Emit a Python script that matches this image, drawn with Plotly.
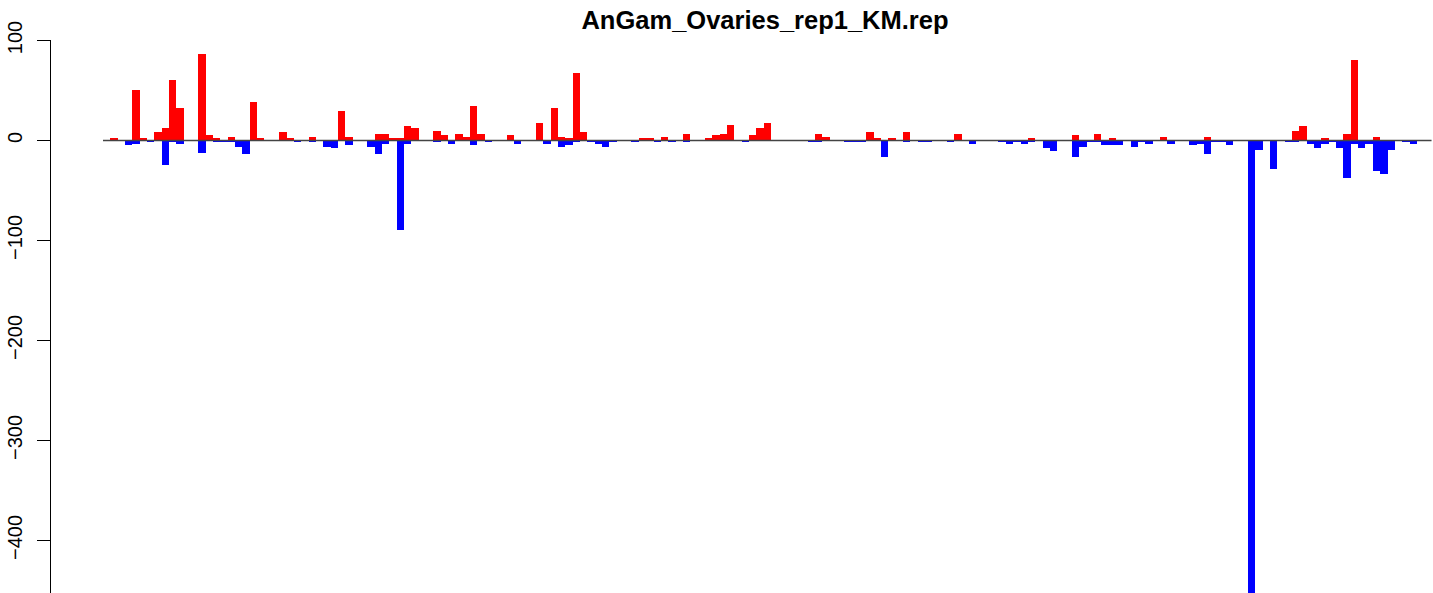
import plotly.graph_objects as go

title_text = "AnGam_Ovaries_rep1_KM.rep"

positive = [0, 3, 1, 0, 51, 3, 0, 9, 13, 61, 33, 0, 0, 87, 6, 3, 1, 4, 1, 1,
            39, 3, 0, 0, 9, 3, 0, 1, 4, 0, 0, 1, 30, 4, 0, 0, 1, 7, 7, 3,
            3, 15, 13, 1, 0, 10, 6, 0, 7, 4, 35, 7, 0, 0, 0, 6, 1, 0, 0, 18,
            0, 33, 4, 3, 68, 9, 1, 1, 0, 0, 1, 1, 0, 3, 3, 1, 4, 0, 0, 7,
            0, 1, 3, 6, 7, 16, 0, 0, 6, 13, 18, 0, 1, 0, 1, 1, 1, 7, 4, 0,
            0, 1, 0, 0, 9, 3, 0, 3, 0, 9, 0, 0, 0, 1, 0, 1, 7, 0, 0, 0,
            0, 1, 0, 0, 1, 0, 3, 0, 1, 0, 0, 0, 6, 0, 1, 7, 0, 3, 0, 1,
            0, 1, 1, 0, 4, 1, 0, 0, 0, 0, 4, 1, 0, 1, 0, 0, 0, 1, 0, 1,
            0, 0, 10, 15, 0, 1, 3, 0, 1, 7, 81, 0, 0, 4, 0, 0, 1, 1, 0, 0,
            0]

negative = [0, 0, 0, -4, -3, 0, -1, 0, -24, -1, -3, 0, 0, -12, 0, -1, -1, -1, -6, -13,
            0, 0, 0, 0, 0, 0, -1, 0, -1, 0, -6, -7, 0, -4, 0, 0, -6, -13, -3, 0,
            -89, -3, 0, 0, 0, -1, 0, -3, 0, 0, -4, 0, -1, 0, 0, 0, -3, 0, 0, 0,
            -3, 0, -6, -4, -1, 0, -1, -3, -6, -1, 0, 0, -1, 0, 0, -1, 0, -1, 0, -1,
            0, 0, 0, 0, 0, 0, 0, -1, 0, 0, 0, 0, 0, 0, 0, 0, -1, -1, 0, 0,
            0, -1, -1, -1, 0, 0, -16, 0, 0, -1, 0, -1, -1, 0, 0, -1, 0, 0, -3, 0,
            0, 0, -1, -3, -1, -3, -1, 0, -7, -10, 0, 0, -16, -6, -1, -1, -4, -4, -4, 0,
            -6, -1, -3, 0, 0, -3, 0, 0, -4, -3, -13, -1, -1, -4, 0, 0, -465, -9, 0, -28,
            0, -1, -1, 0, -3, -7, -3, -1, -7, -37, -3, -7, -3, -30, -33, -9, 0, -1, -3, 0,
            0]

y_ticks = [100, 0, -100, -200, -300, -400]

n = len(positive)
xs = list(range(n))

fig = go.Figure()
fig.add_trace(go.Bar(x=xs, y=positive, marker=dict(color="#FF0000", line=dict(width=0)),
                     width=1, showlegend=False, hoverinfo="skip"))
fig.add_trace(go.Bar(x=xs, y=negative, marker=dict(color="#0000FF", line=dict(width=0)),
                     width=1, showlegend=False, hoverinfo="skip"))

fig.add_shape(type="line", x0=-0.5, x1=n - 0.5, y0=0, y1=0, xref="x", yref="y",
              line=dict(color="#444444", width=1.3), layer="above")

W, H = 1433, 593
L, T = 51, 40
px_per_bar = 7.34
x0 = -(106.67 - L) / px_per_bar
x1 = x0 + (W - L) / px_per_bar

fig.update_layout(
    template="none",
    width=W, height=H,
    margin=dict(l=L, r=0, t=T, b=0, autoexpand=False),
    paper_bgcolor="white", plot_bgcolor="white",
    barmode="relative", bargap=0,
    hovermode=False,
    font=dict(family="Liberation Sans, Arial, sans-serif", color="black"),
    title=dict(text=title_text, x=765 / W, xanchor="center", xref="container",
               y=1 - 20 / H, yanchor="middle", yref="container",
               font=dict(size=25.5, weight="bold", color="black")),
    xaxis=dict(visible=False, range=[x0, x1], automargin=False),
    yaxis=dict(range=[-452.5, 100.5], tickvals=y_ticks,
               ticktext=[("\u2212" + str(-v)) if v < 0 else str(v) for v in y_ticks],
               showgrid=False, zeroline=False, showline=True, linecolor="black", linewidth=1.3,
               ticks="outside", ticklen=13, tickwidth=1.3, tickcolor="black",
               tickangle=-90, tickfont=dict(size=20, color="black"),
               ticklabelstandoff=7, automargin=False),
)

fig.write_html("out.html", config={"displayModeBar": False, "staticPlot": True},
               post_script="document.body.style.margin='0px';document.body.style.overflow='hidden';")
